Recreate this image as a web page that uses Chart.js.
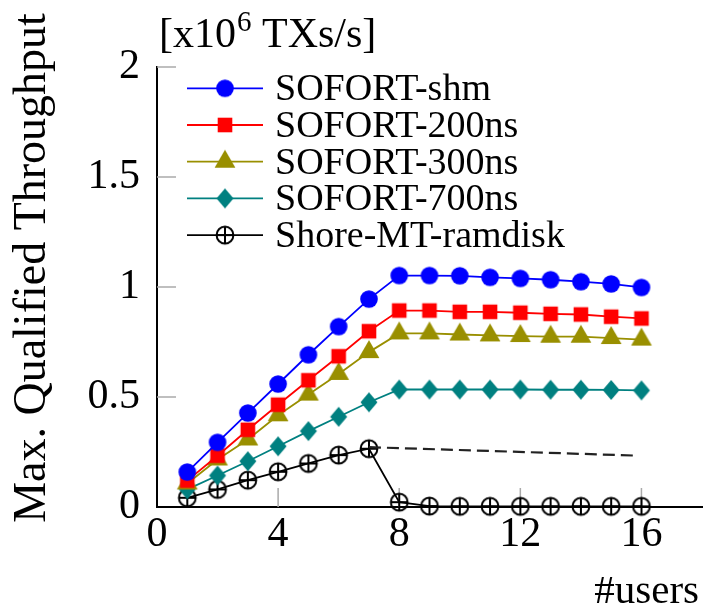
<!DOCTYPE html>
<html><head><meta charset="utf-8">
<script src="https://cdn.jsdelivr.net/npm/chart.js@4.4.1/dist/chart.umd.min.js"></script>
<style>html,body{margin:0;padding:0;background:#fff;}canvas{display:block;}</style>
</head><body>
<canvas id="c" width="704" height="609"></canvas>
<script>
// ---- data ----
const users = [1,2,3,4,5,6,7,8,9,10,11,12,13,14,15,16];
const sofortShm  = [0.159,0.294,0.427,0.559,0.692,0.820,0.945,1.052,1.052,1.051,1.044,1.039,1.033,1.024,1.014,0.998];
const sofort200  = [0.120,0.233,0.351,0.465,0.576,0.685,0.799,0.893,0.893,0.887,0.887,0.883,0.878,0.875,0.865,0.857];
const sofort300  = [0.107,0.216,0.307,0.417,0.511,0.605,0.704,0.789,0.789,0.784,0.780,0.777,0.774,0.774,0.768,0.761];
const sofort700  = [0.080,0.143,0.208,0.276,0.345,0.410,0.476,0.534,0.534,0.534,0.534,0.534,0.533,0.533,0.532,0.530];
const shoreRam   = [0.042,0.080,0.122,0.160,0.198,0.236,0.265,0.022,0.004,0.003,0.003,0.003,0.003,0.003,0.003,0.003];
const projX = [7, 15.75];
const projY = [0.272, 0.234];
const seriesLabels = ['SOFORT-shm','SOFORT-200ns','SOFORT-300ns','SOFORT-700ns','Shore-MT-ramdisk'];
const xTicks = [0,4,8,12,16];
const yTicks = [0,0.5,1,1.5,2];

const SERIF = '"Liberation Serif", "Times New Roman", serif';
const colors = ['#0000ff','#ff0000','#998f00','#008080','#000000'];

function makeMarker(kind, color){
  const s = 32, m = 16;
  const c = document.createElement('canvas'); c.width = s; c.height = s;
  const g = c.getContext('2d');
  g.fillStyle = color; g.strokeStyle = color;
  g.beginPath();
  if (kind === 'circle') { g.arc(m, m, 8.8, 0, Math.PI*2); g.fill(); }
  else if (kind === 'square') { g.fillRect(m-7.3, m-7.3, 14.6, 14.6); }
  else if (kind === 'triangle') { g.moveTo(m, m-12); g.lineTo(m+10.4, m+6); g.lineTo(m-10.4, m+6); g.closePath(); g.fill(); }
  else if (kind === 'diamond') { g.moveTo(m, m-10); g.lineTo(m+8.5, m); g.lineTo(m, m+10); g.lineTo(m-8.5, m); g.closePath(); g.fill(); }
  else if (kind === 'oplus') {
    g.lineWidth = 2; g.arc(m, m, 8.4, 0, Math.PI*2); g.stroke();
    g.beginPath(); g.moveTo(m-8.4, m); g.lineTo(m+8.4, m); g.moveTo(m, m-8.4); g.lineTo(m, m+8.4); g.stroke();
  }
  return c;
}
const markers = [
  makeMarker('circle', colors[0]), makeMarker('square', colors[1]), makeMarker('triangle', colors[2]),
  makeMarker('diamond', colors[3]), makeMarker('oplus', colors[4])
];
const seriesValues = [sofortShm, sofort200, sofort300, sofort700, shoreRam];

const datasets = seriesValues.map((vals, i) => ({
  label: seriesLabels[i],
  data: users.map((u, k) => ({x: u, y: vals[k]})),
  borderColor: colors[i], backgroundColor: colors[i],
  borderWidth: 1.8, pointStyle: markers[i], pointRadius: 9, tension: 0, clip: false, showLine: true
}));
// dashed projection line (drawn below the series)
datasets.unshift({
  label: '_proj',
  data: projX.map((x, k) => ({x, y: projY[k]})),
  borderColor: '#222', borderWidth: 2.2, borderDash: [12, 6], pointRadius: 0, tension: 0, clip: false, showLine: true
});

// pin the plot area to the reference frame
const fixArea = {
  id: 'fixArea',
  afterLayout(chart){
    const ca = chart.chartArea, x = chart.scales.x;
    ca.right = 702; ca.width = ca.right - ca.left;
    x.right = 702; x.width = x.right - x.left; x.configure();
  }
};

const innerTicks = {
  id: 'innerTicks',
  beforeDatasetsDraw(chart){
    const {ctx, chartArea, scales} = chart;
    ctx.save(); ctx.strokeStyle = '#aaaaaa'; ctx.lineWidth = 1.5; ctx.beginPath();
    xTicks.forEach(v => { if (v === 0) return; const p = scales.x.getPixelForValue(v);
      ctx.moveTo(p, chartArea.bottom); ctx.lineTo(p, chartArea.bottom - 19); });
    yTicks.forEach(v => { if (v === 0) return; const p = scales.y.getPixelForValue(v);
      ctx.moveTo(chartArea.left, p); ctx.lineTo(chartArea.left + 19, p); });
    ctx.stroke(); ctx.restore();
  }
};

const texts = {
  id: 'texts',
  afterDraw(chart){
    const {ctx, chartArea} = chart;
    ctx.save(); ctx.fillStyle = '#000';
    // y axis title
    ctx.save(); ctx.translate(45, 268); ctx.rotate(-Math.PI/2);
    ctx.font = '46px ' + SERIF; ctx.textAlign = 'center'; ctx.textBaseline = 'alphabetic';
    ctx.fillText('Max. Qualified Throughput', 0, 0); ctx.restore();
    // unit label with superscript
    ctx.textAlign = 'left'; ctx.textBaseline = 'alphabetic';
    let x = chartArea.left + 2; const base = 47;
    ctx.font = '42px ' + SERIF; ctx.fillText('[x10', x, base); x += ctx.measureText('[x10').width;
    ctx.font = '29px ' + SERIF; ctx.fillText('6', x + 1, base - 16); x += ctx.measureText('6').width + 1;
    ctx.font = '42px ' + SERIF; ctx.fillText(' TXs/s]', x, base);
    // x axis title
    ctx.textAlign = 'right'; ctx.font = '41px ' + SERIF;
    ctx.fillText('#users', 699, 603);
    // legend
    const series = chart.data.datasets.filter(d => !d.label.startsWith('_'));
    ctx.font = '38px ' + SERIF; ctx.textAlign = 'left';
    series.forEach((d, i) => {
      const yy = 88.3 + i * 36.7;
      ctx.strokeStyle = d.borderColor; ctx.lineWidth = 1.8;
      ctx.beginPath(); ctx.moveTo(187, yy); ctx.lineTo(263, yy); ctx.stroke();
      const img = d.pointStyle; ctx.drawImage(img, 225 - img.width/2, yy - img.height/2);
      ctx.fillStyle = '#000'; ctx.fillText(d.label, 275, yy + 12);
    });
    ctx.restore();
  }
};

new Chart(document.getElementById('c'), {
  type: 'line',
  data: { datasets },
  options: {
    responsive: false, devicePixelRatio: 1, animation: false, events: [],
    layout: { padding: { top: 67, right: 2, left: 0, bottom: 0 } },
    plugins: { legend: { display: false }, tooltip: { enabled: false } },
    scales: {
      x: {
        type: 'linear', min: 0, max: 18, offset: false,
        afterBuildTicks: s => { s.ticks = xTicks.map(v => ({value: v})); },
        afterFit: s => { s.height = 102; s.paddingLeft = 0; s.paddingRight = 0; },
        grid: { display: false, drawTicks: false },
        border: { display: true, color: '#000', width: 2 },
        ticks: { autoSkip: false, maxRotation: 0, padding: 3, color: '#000', font: { family: SERIF, size: 42 } }
      },
      y: {
        type: 'linear', min: 0, max: 2,
        afterBuildTicks: s => { s.ticks = yTicks.map(v => ({value: v})); },
        afterFit: s => { s.width = 157; s.paddingTop = 0; s.paddingBottom = 0; },
        grid: { display: false, drawTicks: false },
        border: { display: true, color: '#000', width: 2 },
        ticks: { padding: 17, color: '#000', font: { family: SERIF, size: 42 }, callback: v => String(v) }
      }
    }
  },
  plugins: [fixArea, innerTicks, texts]
});
</script>
</body></html>
